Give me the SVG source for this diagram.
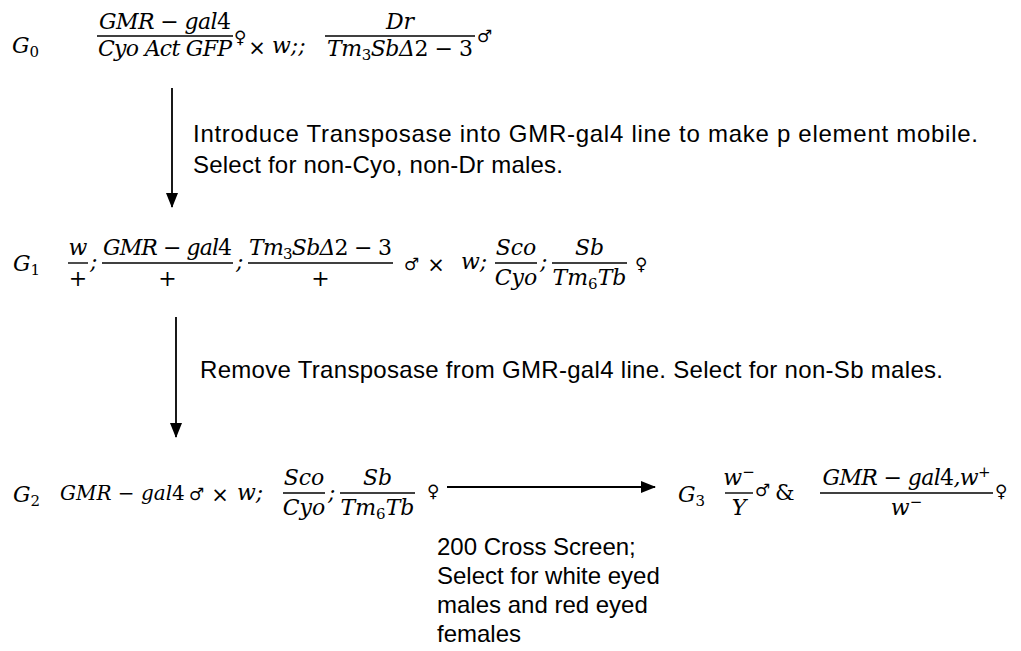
<svg xmlns="http://www.w3.org/2000/svg" width="1021" height="651" viewBox="0 0 1021 651">
<style>
.m{font-family:"DejaVu Serif",serif;font-style:italic;font-size:22px;fill:#000}
.c{text-anchor:middle}
.u{font-style:normal}
.sb{font-style:normal;font-size:15px}
.sp{font-style:normal;font-size:15px}
.s{font-family:"DejaVu Sans",sans-serif;font-size:17px;fill:#000}
.x{font-family:"DejaVu Sans",sans-serif;font-size:21px;text-anchor:middle;fill:#000}
.t{font-family:"Liberation Sans",Arial,sans-serif;font-size:24px;fill:#000}
.bar{stroke:#000;stroke-width:1.4}
.ar{stroke:#000;stroke-width:1.8;fill:none}
</style>
<defs>
<marker id="ah" markerUnits="userSpaceOnUse" markerWidth="15" markerHeight="12" refX="14" refY="6" orient="auto">
<path d="M0,0 L15,6 L0,12 z" fill="#000"/>
</marker>
</defs>
<rect width="1021" height="651" fill="#fff"/>

<g id="g0">
<text class="m" x="12" y="53">G<tspan class="sb" dy="4">0</tspan></text>
<line class="bar" x1="97" y1="36" x2="233" y2="36"/>
<text class="m c" x="165" y="29" textLength="132">GMR − gal<tspan class="u">4</tspan></text>
<text class="m c" x="165" y="56" textLength="134">Cyo Act GFP</text>
<text class="s" x="234" y="43">♀</text>
<text class="x" x="257" y="55">×</text>
<text class="m" x="272" y="53">w;;</text>
<line class="bar" x1="325" y1="36" x2="475" y2="36"/>
<text class="m c" x="400" y="29">Dr</text>
<text class="m c" x="400" y="56" textLength="146">Tm<tspan class="sb" dy="4">3</tspan><tspan dy="-4">SbΔ</tspan><tspan class="u">2 − 3</tspan></text>
<text class="s" x="477" y="42">♂</text>
</g>

<g id="g1">
<text class="m" x="13" y="271">G<tspan class="sb" dy="4">1</tspan></text>
<line class="bar" x1="68" y1="263" x2="88" y2="263"/>
<text class="m c" x="78" y="255">w</text>
<text class="m c u" x="78" y="286">+</text>
<text class="m" x="90" y="269">;</text>
<line class="bar" x1="102" y1="263" x2="233" y2="263"/>
<text class="m c" x="167.5" y="255" textLength="129">GMR − gal<tspan class="u">4</tspan></text>
<text class="m c u" x="167.5" y="286">+</text>
<text class="m" x="236" y="269">;</text>
<line class="bar" x1="248" y1="263" x2="393" y2="263"/>
<text class="m c" x="320.5" y="255" textLength="143">Tm<tspan class="sb" dy="4">3</tspan><tspan dy="-4">SbΔ</tspan><tspan class="u">2 − 3</tspan></text>
<text class="m c u" x="320.5" y="286">+</text>
<text class="s" x="404" y="270">♂</text>
<text class="x" x="436" y="272">×</text>
<text class="m" x="461" y="269">w;</text>
<line class="bar" x1="495" y1="263" x2="537" y2="263"/>
<text class="m c" x="516" y="255">Sco</text>
<text class="m c" x="516" y="285">Cyo</text>
<text class="m" x="540" y="269">;</text>
<line class="bar" x1="552" y1="263" x2="627" y2="263"/>
<text class="m c" x="589.5" y="255">Sb</text>
<text class="m c" x="589.5" y="285">Tm<tspan class="sb" dy="4">6</tspan><tspan dy="-4">Tb</tspan></text>
<text class="s" x="635" y="270">♀</text>
</g>

<g id="g2">
<text class="m" x="13" y="502">G<tspan class="sb" dy="4">2</tspan></text>
<text class="m" x="60" y="500" style="font-size:20px">GMR − gal<tspan class="u">4</tspan></text>
<text class="s" x="189" y="500">♂</text>
<text class="x" x="220" y="502">×</text>
<text class="m" x="237" y="500">w;</text>
<line class="bar" x1="283" y1="493" x2="325" y2="493"/>
<text class="m c" x="304" y="485">Sco</text>
<text class="m c" x="304" y="515">Cyo</text>
<text class="m" x="328" y="500">;</text>
<line class="bar" x1="340" y1="493" x2="415" y2="493"/>
<text class="m c" x="377.5" y="485">Sb</text>
<text class="m c" x="377.5" y="515">Tm<tspan class="sb" dy="4">6</tspan><tspan dy="-4">Tb</tspan></text>
<text class="s" x="427" y="497">♀</text>
</g>

<g id="g3">
<text class="m" x="678" y="502">G<tspan class="sb" dy="4">3</tspan></text>
<line class="bar" x1="725" y1="493" x2="753" y2="493"/>
<text class="m c" x="739" y="485">w<tspan class="sp" dy="-8">−</tspan></text>
<text class="m c" x="739" y="515">Y</text>
<text class="s" x="755" y="496">♂</text>
<text class="m u" x="775" y="500">&amp;</text>
<line class="bar" x1="820" y1="493" x2="993" y2="493"/>
<text class="m c" x="906.5" y="485" textLength="168">GMR − gal<tspan class="u">4</tspan>,w<tspan class="sp" dy="-8">+</tspan></text>
<text class="m c" x="906.5" y="515">w<tspan class="sp" dy="-8">−</tspan></text>
<text class="s" x="995" y="497">♀</text>
</g>

<g id="connectors">
<line class="ar" x1="172" y1="88" x2="172" y2="207" marker-end="url(#ah)"/>
<line class="ar" x1="176" y1="317" x2="176" y2="437" marker-end="url(#ah)"/>
<line class="ar" x1="447" y1="487" x2="655" y2="487" marker-end="url(#ah)"/>
</g>

<g id="labels">
<text class="t" x="193" y="142" textLength="785">Introduce Transposase into GMR-gal4 line to make p element mobile.</text>
<text class="t" x="193" y="173" textLength="370">Select for non-Cyo, non-Dr males.</text>
<text class="t" x="200" y="378" textLength="743">Remove Transposase from  GMR-gal4 line. Select for non-Sb males.</text>
<text class="t" x="437" y="555">200 Cross Screen;</text>
<text class="t" x="437" y="584">Select for white eyed</text>
<text class="t" x="437" y="613">males and red eyed</text>
<text class="t" x="437" y="642">females</text>
</g>
</svg>
